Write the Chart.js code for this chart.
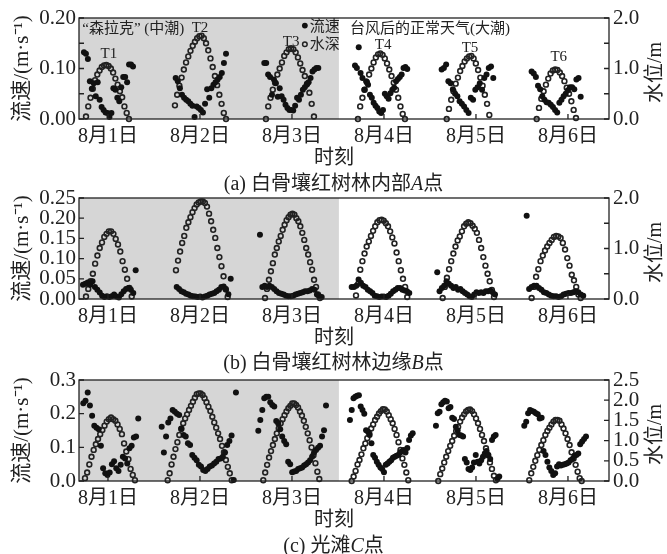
<!DOCTYPE html>
<html>
<head>
<meta charset="utf-8">
<script src="https://cdn.jsdelivr.net/npm/chart.js@4.4.1/dist/chart.umd.min.js"></script>
<style>
  body { margin: 0; background: #fff; width: 667px; height: 554px; position: relative; overflow: hidden;
         font-family: 'Liberation Serif', 'Noto Sans CJK SC', serif; color: #222; }
  .panel { position: absolute; left: 0; width: 667px; height: 170px; }
  .lbl { position: absolute; left: 0; width: 667px; text-align: center; font-size: 20px; line-height: 22px; }
</style>
</head>
<body>
<div class="panel" style="top:0"><canvas id="chartA" width="667" height="170"></canvas></div>
<div class="panel" style="top:180px"><canvas id="chartB" width="667" height="170"></canvas></div>
<div class="panel" style="top:362px"><canvas id="chartC" width="667" height="170"></canvas></div>
<div class="lbl" style="top:146px;width:668px">时刻</div>
<div class="lbl" style="top:172px">(a) 白骨壤红树林内部<i>A</i>点</div>
<div class="lbl" style="top:326px;width:668px">时刻</div>
<div class="lbl" style="top:351px">(b) 白骨壤红树林边缘<i>B</i>点</div>
<div class="lbl" style="top:508px;width:668px">时刻</div>
<div class="lbl" style="top:534px">(c) 光滩<i>C</i>点</div>

<script>
// ---- axes ----
const dayTicks = [1, 2, 3, 4, 5, 6];
const dayLabels = ['8月1日', '8月2日', '8月3日', '8月4日', '8月5日', '8月6日'];
const X_MIN = 0.685, X_MAX = 6.446, SHADE_END = 3.51;

const velTicksA = [0, 0.05, 0.1, 0.15, 0.2];
const velLabelsA = ['0.00', '', '0.10', '', '0.20'];
const levTicksA = [0, 0.5, 1, 1.5, 2];
const levLabelsA = ['0.0', '', '1.0', '', '2.0'];

const velTicksB = [0, 0.05, 0.1, 0.15, 0.2, 0.25];
const velLabelsB = ['0.00', '0.05', '0.10', '0.15', '0.20', '0.25'];
const levTicksB = [0, 0.5, 1, 1.5, 2];
const levLabelsB = ['0.0', '', '1.0', '', '2.0'];

const velTicksC = [0, 0.1, 0.2, 0.3];
const velLabelsC = ['0.0', '0.1', '0.2', '0.3'];
const levTicksC = [0, 0.5, 1, 1.5, 2, 2.5];
const levLabelsC = ['0.0', '0.5', '1.0', '1.5', '2.0', '2.5'];

// ---- (a) 内部A点: each tide T1..T6 sampled evenly between start and end (days) ----
const levStartA = [0.761, 1.728, 2.717, 3.717, 4.682, 5.660];
const levEndA = [1.228, 2.283, 3.239, 4.228, 5.145, 6.087];
const levA = [
  [0.05,0.25,0.42,0.6,0.77,0.88,0.96,1.03,1.06,1.07,1.05,1.0,0.92,0.8,0.68,0.55,0.43,0.25,0.12,0.0],
  [0.27,0.48,0.66,0.82,0.98,1.12,1.24,1.35,1.45,1.53,1.6,1.64,1.65,1.6,1.5,1.36,1.2,1.03,0.85,0.67,0.48,0.3,0.12,0.0],
  [0.0,0.25,0.42,0.58,0.72,0.88,1.0,1.12,1.25,1.32,1.38,1.4,1.38,1.32,1.22,1.1,0.97,0.85,0.7,0.52,0.3,0.05],
  [0.0,0.25,0.42,0.58,0.73,0.88,1.0,1.12,1.22,1.28,1.3,1.27,1.2,1.1,0.98,0.85,0.72,0.58,0.42,0.25,0.1,0.0],
  [0.0,0.2,0.38,0.55,0.7,0.82,0.95,1.05,1.14,1.2,1.24,1.25,1.2,1.1,0.97,0.82,0.66,0.48,0.3,0.08],
  [0.0,0.22,0.4,0.55,0.68,0.8,0.9,0.96,0.98,0.97,0.92,0.85,0.75,0.62,0.5,0.35,0.18,0.02]
];
const velStartA = [0.739, 1.736, 2.699, 3.685, 4.627, 5.605];
const velEndA = [1.272, 2.283, 3.286, 4.253, 5.188, 6.138];
const velA = [
  [0.132,0.129,0.119,0.075,0.06,0.071,0.045,0.073,0.038,0.024,0.018,0.013,0.012,0.004,0.012,0.061,0.058,0.042,0.035,0.063,0.083,0.083,0.073,0.108,0.108,0.104],
  [0.081,0.075,0.061,0.048,0.042,0.038,0.035,0.03,0.026,0.004,0.025,0.022,0.018,0.013,0.03,0.059,0.042,0.061,0.068,0.073,0.078,0.083,0.091,0.111,0.129],
  [0.111,0.111,0.088,0.083,0.048,0.078,0.071,0.044,0.061,0.045,0.038,0.028,0.022,0.018,0.018,0.017,0.026,0.042,0.038,0.048,0.058,0.063,0.068,0.073,0.081,0.094,0.098,0.101,0.101],
  [0.106,0.101,0.142,0.091,0.081,0.058,0.075,0.068,0.048,0.042,0.032,0.026,0.022,0.015,0.012,0.018,0.05,0.045,0.04,0.051,0.058,0.062,0.075,0.079,0.083,0.088,0.101,0.103,0.099],
  [0.098,0.101,0.108,0.075,0.071,0.059,0.05,0.045,0.035,0.03,0.025,0.018,0.012,0.042,0.038,0.058,0.063,0.071,0.058,0.081,0.088,0.101,0.104,0.081],
  [0.094,0.09,0.083,0.066,0.059,0.045,0.038,0.033,0.032,0.028,0.024,0.018,0.013,0.032,0.038,0.045,0.05,0.057,0.063,0.063,0.059,0.078,0.081,0.044]
];

// ---- (b) 边缘B点 ----
const levStartB = [0.761, 1.739, 2.707, 3.696, 4.638, 5.605];
const levEndB = [1.258, 2.301, 3.304, 4.253, 5.196, 6.138];
const levB = [
  [0.05,0.2,0.35,0.5,0.7,0.86,1.01,1.12,1.23,1.29,1.34,1.34,1.29,1.19,1.08,0.94,0.75,0.58,0.4,0.22,0.05],
  [0.57,0.76,0.94,1.11,1.25,1.41,1.52,1.62,1.72,1.8,1.87,1.91,1.93,1.93,1.9,1.83,1.69,1.54,1.37,1.21,1.01,0.83,0.65,0.45,0.2,0.04],
  [0.02,0.2,0.38,0.55,0.71,0.88,1.01,1.14,1.25,1.37,1.47,1.56,1.62,1.67,1.69,1.67,1.6,1.54,1.44,1.31,1.17,1.01,0.88,0.73,0.58,0.38,0.24,0.09,0.02],
  [0.07,0.3,0.58,0.75,0.9,1.04,1.14,1.25,1.35,1.44,1.52,1.56,1.57,1.55,1.5,1.44,1.34,1.22,1.1,0.92,0.75,0.57,0.4,0.24,0.04],
  [0.02,0.24,0.42,0.59,0.75,0.9,1.04,1.16,1.24,1.34,1.44,1.49,1.52,1.5,1.45,1.39,1.31,1.17,1.01,0.83,0.66,0.5,0.35,0.18,0.04],
  [0.02,0.24,0.44,0.59,0.75,0.86,0.96,1.04,1.11,1.17,1.23,1.25,1.24,1.21,1.11,0.98,0.81,0.66,0.48,0.37,0.24,0.09,0.02]
];
const velStartB = [0.728, 1.747, 2.652, 3.649, 4.579, 5.551];
const velEndB = [1.301, 2.334, 3.323, 4.275, 5.207, 6.166];
const velB = [
  [0.035,0.038,0.041,0.035,0.044,0.03,0.023,0.016,0.008,0.005,0.007,0.005,0.007,0.011,0.006,0.004,0.012,0.019,0.025,0.027,0.023,0.015,0.071],
  [0.03,0.025,0.019,0.017,0.013,0.011,0.008,0.007,0.006,0.005,0.006,0.004,0.006,0.008,0.011,0.013,0.015,0.019,0.023,0.03,0.031,0.023,0.012,0.05],
  [0.159,0.03,0.033,0.03,0.033,0.03,0.025,0.019,0.015,0.013,0.011,0.008,0.007,0.007,0.008,0.011,0.013,0.015,0.017,0.019,0.019,0.021,0.025,0.023,0.011,0.007,0.005],
  [0.03,0.03,0.033,0.048,0.04,0.033,0.03,0.023,0.019,0.015,0.008,0.007,0.005,0.006,0.006,0.005,0.008,0.013,0.019,0.023,0.027,0.027,0.023,0.021,0.019,0.015],
  [0.066,0.019,0.027,0.033,0.044,0.038,0.033,0.027,0.03,0.023,0.025,0.019,0.015,0.011,0.007,0.005,0.011,0.017,0.015,0.017,0.015,0.019,0.019,0.021,0.017,0.011],
  [0.206,0.025,0.03,0.033,0.033,0.027,0.023,0.017,0.015,0.011,0.008,0.007,0.007,0.005,0.007,0.011,0.013,0.015,0.015,0.017,0.019,0.017,0.011,0.008]
];

// ---- (c) 光滩C点 ----
const levStartC = [0.75, 1.649, 2.688, 3.649, 4.59, 5.579];
const levEndC = [1.293, 2.345, 3.297, 4.264, 5.217, 6.149];
const levC = [
  [0.07,0.21,0.41,0.6,0.77,0.91,1.04,1.16,1.26,1.37,1.47,1.53,1.57,1.53,1.49,1.4,1.29,1.16,0.93,0.73,0.54,0.3,0.15,0.02],
  [0.02,0.19,0.41,0.6,0.79,0.96,1.14,1.29,1.43,1.55,1.65,1.76,1.86,1.96,2.06,2.15,2.17,2.17,2.13,2.05,1.95,1.84,1.73,1.59,1.45,1.32,1.18,1.04,0.87,0.71,0.52,0.35,0.19,0.02],
  [0.02,0.21,0.4,0.58,0.74,0.89,1.04,1.18,1.3,1.43,1.53,1.63,1.72,1.8,1.86,1.92,1.92,1.88,1.82,1.72,1.62,1.49,1.34,1.18,1.01,0.83,0.64,0.44,0.23,0.05],
  [0.0,0.11,0.25,0.41,0.52,0.66,0.81,0.93,1.06,1.18,1.3,1.4,1.51,1.59,1.67,1.73,1.78,1.77,1.72,1.63,1.53,1.43,1.29,1.14,0.96,0.77,0.56,0.4,0.21,0.02],
  [0.0,0.17,0.31,0.46,0.6,0.74,0.87,0.99,1.12,1.24,1.34,1.47,1.57,1.65,1.72,1.76,1.77,1.73,1.65,1.55,1.43,1.29,1.14,0.99,0.81,0.64,0.46,0.3,0.13,0.02],
  [0.02,0.19,0.35,0.5,0.64,0.77,0.89,1.01,1.14,1.24,1.32,1.4,1.47,1.51,1.51,1.49,1.4,1.3,1.18,1.04,0.89,0.71,0.56,0.4,0.23,0.07,0.0]
];
const velStartC = [0.732, 1.584, 2.634, 3.63, 4.565, 5.525];
const velEndC = [1.329, 2.391, 3.37, 4.312, 5.253, 6.196];
const velC = [
  [0.231,0.238,0.263,0.224,0.194,0.164,0.158,0.154,0.105,0.038,0.023,0.018,0.025,0.05,0.059,0.038,0.03,0.048,0.072,0.067,0.052,0.097,0.105,0.129,0.132,0.186],
  [0.161,0.085,0.132,0.174,0.186,0.211,0.206,0.2,0.196,0.156,0.137,0.132,0.112,0.107,0.077,0.069,0.062,0.048,0.043,0.033,0.03,0.036,0.043,0.046,0.052,0.057,0.065,0.067,0.072,0.085,0.107,0.119,0.135,0.003,0.263],
  [0.149,0.181,0.211,0.246,0.25,0.25,0.234,0.226,0.221,0.178,0.171,0.154,0.132,0.119,0.109,0.057,0.05,0.026,0.028,0.03,0.036,0.038,0.04,0.046,0.05,0.055,0.062,0.072,0.085,0.092,0.099,0.105,0.132,0.151,0.224],
  [0.181,0.211,0.246,0.25,0.253,0.255,0.221,0.211,0.2,0.151,0.147,0.137,0.112,0.077,0.069,0.057,0.048,0.04,0.036,0.026,0.048,0.052,0.057,0.062,0.069,0.072,0.075,0.077,0.085,0.088,0.092,0.085,0.098,0.122,0.135,0.142],
  [0.164,0.201,0.206,0.228,0.234,0.238,0.236,0.216,0.22,0.188,0.184,0.161,0.15,0.137,0.135,0.132,0.065,0.055,0.036,0.033,0.04,0.055,0.077,0.057,0.052,0.062,0.072,0.082,0.089,0.077,0.065,0.122,0.132,0.137,0.006,0.013],
  [0.164,0.176,0.201,0.211,0.208,0.206,0.201,0.198,0.186,0.188,0.089,0.077,0.057,0.04,0.03,0.018,0.023,0.043,0.05,0.046,0.048,0.05,0.052,0.055,0.062,0.065,0.075,0.077,0.082,0.109,0.117,0.125,0.132]
];

// annotations in panel (a): [text, day, level, align]
const notesA = [
  ['“森拉克” (中潮)', 0.72, 1.79, 'left'],
  ['T2', 2.0, 1.81, 'center'],
  ['T1', 1.01, 1.29, 'center'],
  ['T3', 2.99, 1.53, 'center'],
  ['台风后的正常天气(大潮)', 3.63, 1.79, 'left'],
  ['T4', 3.99, 1.47, 'center'],
  ['T5', 4.935, 1.41, 'center'],
  ['T6', 5.9, 1.23, 'center']
];

const FONT = '"Liberation Serif", "Noto Sans CJK SC", serif';
const TEXT = '#222';
const SHADE = '#d6d6d6';

function tidePoints(starts, ends, vals) {
  const pts = [];
  vals.forEach((arr, k) => {
    const dt = (ends[k] - starts[k]) / (arr.length - 1);
    arr.forEach((v, i) => pts.push({ x: starts[k] + i * dt, y: v }));
  });
  return pts;
}

function drawNotes(chart) {
  const { ctx, scales } = chart;
  ctx.save();
  ctx.fillStyle = TEXT;
  ctx.textBaseline = 'middle';
  ctx.font = '15px ' + FONT;
  notesA.forEach(([t, x, y, al]) => {
    ctx.textAlign = al;
    ctx.fillText(t, scales.x.getPixelForValue(x), scales.y2.getPixelForValue(y));
  });
  // legend
  const lx = scales.x.getPixelForValue(3.14);
  const y1 = scales.y2.getPixelForValue(1.85), y2 = scales.y2.getPixelForValue(1.48);
  ctx.beginPath(); ctx.arc(lx, y1, 2.9, 0, Math.PI * 2); ctx.fillStyle = '#111'; ctx.fill();
  ctx.beginPath(); ctx.arc(lx, y2, 2.3, 0, Math.PI * 2); ctx.lineWidth = 1.5; ctx.strokeStyle = '#222'; ctx.stroke();
  ctx.fillStyle = TEXT; ctx.textAlign = 'left';
  ctx.fillText('流速', lx + 5, y1 + 1);
  ctx.fillText('水深', lx + 5, y2 + 1);
  ctx.restore();
}

function framePlugin(extra) {
  return {
    id: 'frame',
    beforeDatasetsDraw(chart) {
      const { ctx, chartArea: a, scales } = chart;
      ctx.save();
      ctx.fillStyle = SHADE;
      ctx.fillRect(a.left, a.top, scales.x.getPixelForValue(SHADE_END) - a.left, a.bottom - a.top);
      ctx.restore();
    },
    afterDraw(chart) {
      const { ctx, chartArea: a, scales } = chart;
      ctx.save();
      ctx.strokeStyle = '#222';
      ctx.lineWidth = 1.3;
      ctx.strokeRect(a.left, a.top, a.right - a.left, a.bottom - a.top);
      ctx.beginPath();
      scales.x.ticks.forEach(t => {
        const x = scales.x.getPixelForValue(t.value);
        ctx.moveTo(x, a.bottom); ctx.lineTo(x, a.bottom - 5);
      });
      scales.y.ticks.forEach(t => {
        const y = scales.y.getPixelForValue(t.value);
        ctx.moveTo(a.left, y); ctx.lineTo(a.left + 5, y);
      });
      scales.y2.ticks.forEach(t => {
        const y = scales.y2.getPixelForValue(t.value);
        ctx.moveTo(a.right, y); ctx.lineTo(a.right - 5, y);
      });
      ctx.stroke();
      // right axis title, reading bottom-to-top
      ctx.translate(656, (a.top + a.bottom) / 2 + 4);
      ctx.rotate(-Math.PI / 2);
      ctx.font = '20px ' + FONT;
      ctx.fillStyle = TEXT;
      ctx.textAlign = 'center';
      ctx.textBaseline = 'middle';
      ctx.fillText('水位/m', 0, 0);
      ctx.restore();
      if (extra) extra(chart);
    }
  };
}

function makePanel(id, p) {
  new Chart(document.getElementById(id), {
    type: 'scatter',
    data: {
      datasets: [
        { label: '流速', data: tidePoints(p.velStart, p.velEnd, p.vel), yAxisID: 'y',
          pointRadius: 3, pointBackgroundColor: '#111', pointBorderWidth: 0, clip: 8, order: 1 },
        { label: '水深', data: tidePoints(p.levStart, p.levEnd, p.lev), yAxisID: 'y2',
          pointRadius: 2.4, pointBackgroundColor: 'rgba(0,0,0,0)', pointBorderColor: '#222',
          pointBorderWidth: 1.6, clip: 8, order: 2 }
      ]
    },
    options: {
      responsive: false,
      animation: false,
      layout: { padding: { top: 18, left: 0, right: 0, bottom: 0 } },
      plugins: { legend: { display: false }, tooltip: { enabled: false } },
      scales: {
        x: {
          type: 'linear', min: X_MIN, max: X_MAX,
          grid: { display: false, drawTicks: false }, border: { display: false },
          afterBuildTicks: s => { s.ticks = dayTicks.map(v => ({ value: v })); },
          ticks: { autoSkip: false, maxRotation: 0, padding: 6, color: TEXT,
                   font: { family: FONT, size: 20 }, callback: (v, i) => dayLabels[i] },
          afterFit: s => { s.height = 51; }
        },
        y: {
          position: 'left', min: 0, max: p.velTicks[p.velTicks.length - 1],
          grid: { display: false, drawTicks: false }, border: { display: false },
          afterBuildTicks: s => { s.ticks = p.velTicks.map(v => ({ value: v })); },
          ticks: { autoSkip: false, padding: 3, color: TEXT,
                   font: { family: FONT, size: 21 }, callback: (v, i) => p.velLabels[i] },
          title: { display: true, text: '流速/(m·s\u207B\u00B9)', color: TEXT,
                   font: { family: FONT, size: 21 }, padding: { top: 10, bottom: 0 } },
          afterFit: s => { s.width = 79; }
        },
        y2: {
          position: 'right', min: 0, max: p.levTicks[p.levTicks.length - 1],
          grid: { display: false, drawTicks: false }, border: { display: false },
          afterBuildTicks: s => { s.ticks = p.levTicks.map(v => ({ value: v })); },
          ticks: { autoSkip: false, padding: 4, color: TEXT,
                   font: { family: FONT, size: 21 }, callback: (v, i) => p.levLabels[i] },
          afterFit: s => { s.width = 58; }
        }
      }
    },
    plugins: [framePlugin(p.extra)]
  });
}

makePanel('chartA', { velStart: velStartA, velEnd: velEndA, vel: velA, levStart: levStartA, levEnd: levEndA, lev: levA,
  velTicks: velTicksA, velLabels: velLabelsA, levTicks: levTicksA, levLabels: levLabelsA, extra: drawNotes });
makePanel('chartB', { velStart: velStartB, velEnd: velEndB, vel: velB, levStart: levStartB, levEnd: levEndB, lev: levB,
  velTicks: velTicksB, velLabels: velLabelsB, levTicks: levTicksB, levLabels: levLabelsB });
makePanel('chartC', { velStart: velStartC, velEnd: velEndC, vel: velC, levStart: levStartC, levEnd: levEndC, lev: levC,
  velTicks: velTicksC, velLabels: velLabelsC, levTicks: levTicksC, levLabels: levLabelsC });
</script>
</body>
</html>
